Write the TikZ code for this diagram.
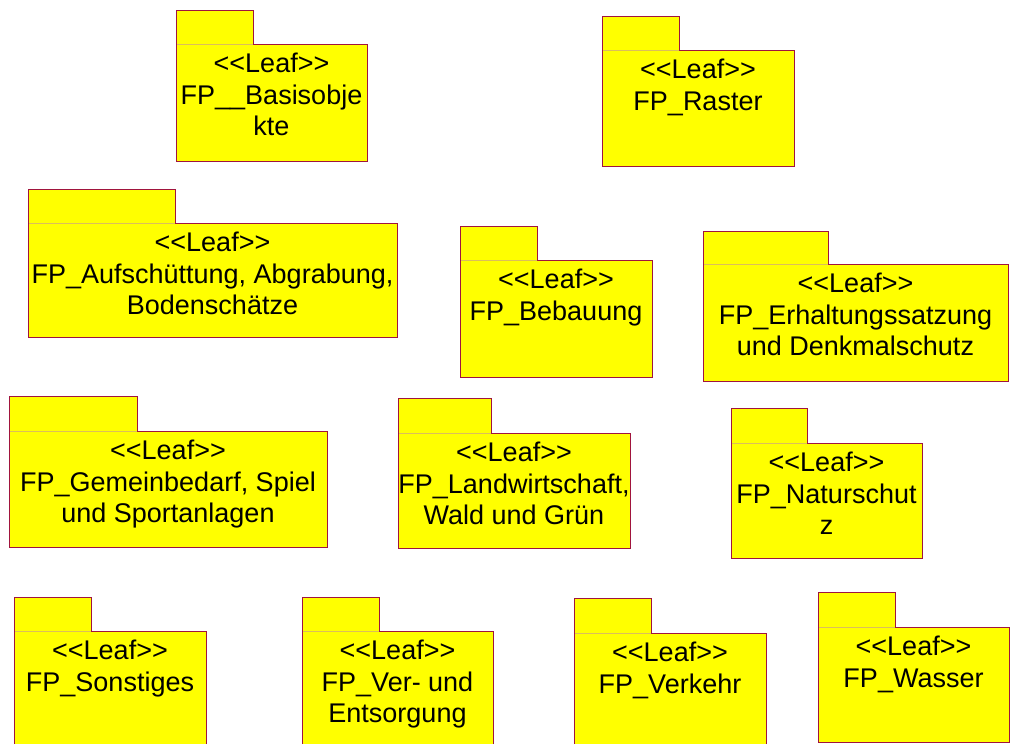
\documentclass[tikz,border=0pt]{standalone}
\usepackage{fontspec}
\setmainfont{Liberation Sans}[Ligatures=TeXOff]
\definecolor{pkgyellow}{RGB}{255,255,0}
\definecolor{pkgborder}{RGB}{160,20,62}
\definecolor{pkgline}{RGB}{220,190,90}
\tikzset{
  pkgfill/.style={fill=pkgyellow},
  pkgedge/.style={draw=pkgborder, line width=1pt, line join=miter},
  pkgsep/.style={draw=pkgline, line width=0.7pt},
  pkgtext/.style={anchor=north, inner sep=0pt, align=center, text=black,
    font=\fontsize{27}{31.5}\selectfont}
}
\newcommand\leafpkg[8]{%
  \path[pkgfill] (#2,#3) rectangle (#4,#5);
  \path[pkgfill] (#2,#5) rectangle (#6,#7);
  \draw[pkgsep] (#2,#5) -- (#4,#5);
  \draw[pkgedge] (#2,#7) -- (#2,#3) -- (#4,#3) -- (#4,#5) -- (#6,#5) -- (#6,#7) -- cycle;
  \node[pkgtext] (#1) at ({(#2+#6)/2},{#5+9}) {#8};
}
\begin{document}
\begin{tikzpicture}[x=1pt,y=-1pt]
\useasboundingbox (0,0) rectangle (1010,744);
\clip (0,0) rectangle (1010,744);
\leafpkg{bas}{176}{10}{253}{44}{367}{161}{<<Leaf>>\\FP\_\_Basisobje\\kte}
\leafpkg{ras}{602}{16}{679}{50}{794}{166}{<<Leaf>>\\FP\_Raster}
\leafpkg{auf}{28}{189}{175}{223}{397}{337}{<<Leaf>>\\FP\_Aufschüttung, Abgrabung,\\Bodenschätze}
\leafpkg{beb}{460}{226}{537}{260}{652}{377}{<<Leaf>>\\FP\_Bebauung}
\leafpkg{erh}{703}{231}{828}{264}{1008}{381}{<<Leaf>>\\FP\_Erhaltungssatzung\\und Denkmalschutz}
\leafpkg{gem}{9}{396}{137}{431}{327}{547}{<<Leaf>>\\FP\_Gemeinbedarf, Spiel\\und Sportanlagen}
\leafpkg{lan}{398}{398}{491}{433}{630}{548}{<<Leaf>>\\FP\_Landwirtschaft,\\Wald und Grün}
\leafpkg{nat}{731}{408}{807}{443}{922}{558}{<<Leaf>>\\FP\_Naturschut\\z}
\leafpkg{son}{14}{597}{91}{631}{206}{760}{<<Leaf>>\\FP\_Sonstiges}
\leafpkg{ver}{302}{597}{379}{631}{493}{760}{<<Leaf>>\\FP\_Ver- und\\Entsorgung}
\leafpkg{vkh}{574}{598}{651}{633}{766}{760}{<<Leaf>>\\FP\_Verkehr}
\leafpkg{was}{818}{592}{895}{627}{1009}{742}{<<Leaf>>\\FP\_Wasser}
\end{tikzpicture}
\end{document}
